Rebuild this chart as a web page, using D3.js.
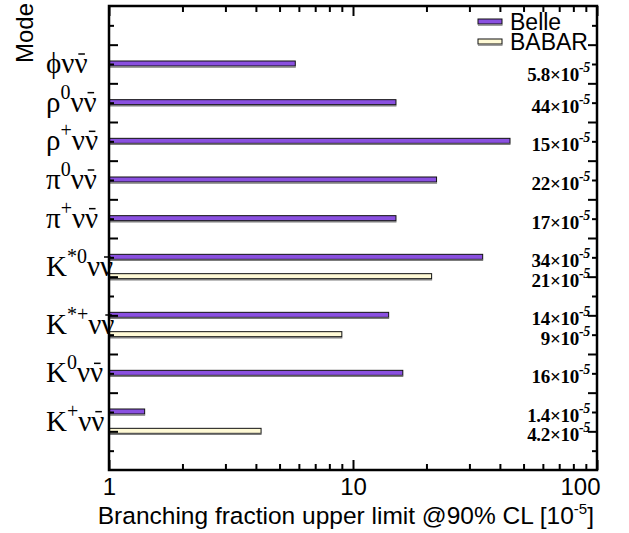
<!DOCTYPE html>
<html><head><meta charset="utf-8">
<script src="https://cdn.jsdelivr.net/npm/d3@7"></script>
<style>body{margin:0;background:#fff} svg{display:block}</style>
</head><body>
<svg id="c" width="629" height="533"></svg>
<script>
// ---- data ----
const modeBase = ["ϕ","ρ","ρ","π","π","K","K","K","K"];
const modeSup  = ["","0","+","0","+","*0","*+","0","+"];
const belleValues = [5.8, 15, 44, 22, 15, 34, 14, 16, 1.4];
const babarValues = [null, null, null, null, null, 21, 9, null, 4.2];
const belleLabels = ["5.8","44","15","22","17","34","14","16","1.4"];
const babarLabels = [null, null, null, null, null, "21","9", null, "4.2"];
const seriesNames = ["Belle","BABAR"];
const xMajorTicks = [1, 10, 100];
const xTickLabels = ["1","10","100"];
const xTitle = "Branching fraction upper limit @90% CL [10";
const yTitle = "Mode";

// ---- layout ----
const svg = d3.select("#c");
const X0 = 109, X1 = 597, Y0 = 6, Y1 = 470;
const x = d3.scaleLog().domain([1, 100]).range([X0, X1]);
const y = d3.scaleLinear().domain([0, 24]).range([Y1, Y0]);
const colors = {Belle: "#8a50e0", BABAR: "#fffad6"};
const serif = "'Liberation Serif','Times New Roman',serif";
const sans = "'Liberation Sans',Arial,Helvetica,sans-serif";

// slots: each bar takes one unit, one unit gap between modes
let pos = 21;
const rows = modeBase.map((b, i) => {
  const hasB = babarValues[i] != null;
  const r = {i, belle: pos, babar: hasB ? pos - 1 : null, center: hasB ? pos - 0.5 : pos};
  pos -= hasB ? 3 : 2;
  return r;
});
const bars = [];
rows.forEach(r => {
  bars.push({series: "Belle", v: belleValues[r.i], slot: r.belle, label: belleLabels[r.i]});
  if (r.babar != null) bars.push({series: "BABAR", v: babarValues[r.i], slot: r.babar, label: babarLabels[r.i]});
});

// ---- bars ----
const gb = svg.append("g");
bars.forEach(b => {
  const yc = y(b.slot);
  gb.append("rect")
    .attr("x", x(1)).attr("y", yc - 3)
    .attr("width", x(b.v) - x(1)).attr("height", 5)
    .attr("fill", colors[b.series]).attr("stroke", "#111").attr("stroke-width", 1);
  gb.append("line")
    .attr("x1", x(1)).attr("x2", x(b.v) + 0.5)
    .attr("y1", yc + 3).attr("y2", yc + 3)
    .attr("stroke", "#7c7c7c").attr("stroke-width", 1.5);
});

// ---- value labels (kept clear of the legend) ----
bars.forEach(b => {
  const t = svg.append("text")
    .attr("x", 590).attr("y", Math.max(y(b.slot) + 10, 81))
    .attr("text-anchor", "end")
    .attr("font-family", serif).attr("font-size", 19).attr("font-weight", "bold")
    .attr("letter-spacing", -0.3)
    .attr("fill", "#000");
  t.append("tspan").text(b.label + "×10");
  t.append("tspan").attr("dy", -9).attr("font-size", 14).attr("font-style", "italic").text("-5");
});

// ---- mode labels ----
rows.forEach(r => {
  const by = y(r.center) + 9;
  const t = svg.append("text")
    .attr("x", 46).attr("y", by)
    .attr("font-family", serif).attr("font-size", 29).attr("fill", "#000");
  t.append("tspan").text(modeBase[r.i]);
  if (modeSup[r.i]) {
    t.append("tspan").attr("dy", -13).attr("font-size", 20).text(modeSup[r.i]);
    t.append("tspan").attr("dy", 13).text("ν");
  } else {
    t.append("tspan").text("ν");
  }
  t.append("tspan").text("ν");
  // bar over the last ν (anti-neutrino)
  const n = t.node().getNumberOfChars();
  const ext = t.node().getExtentOfChar(n - 1);
  svg.append("line")
    .attr("x1", ext.x + ext.width * 0.3).attr("x2", ext.x + ext.width * 0.8)
    .attr("y1", by - 19).attr("y2", by - 19)
    .attr("stroke", "#000").attr("stroke-width", 1.5);
});

// ---- axes ----
const minorX = [];
[1, 10].forEach(d => { for (let k = 2; k <= 9; k++) minorX.push(d * k); });
const yMajor = d3.range(2, 24, 2), yMinor = d3.range(1, 24, 2);

function styleAxis(g) {
  g.select(".domain").remove();
  g.selectAll(".tick line").attr("stroke", "#000").attr("stroke-width", 2);
}
svg.append("g").attr("transform", `translate(0,${Y1})`)
  .call(d3.axisBottom(x).tickValues(xMajorTicks).tickSize(-10).tickPadding(8)
        .tickFormat((d, i) => xTickLabels[i]))
  .call(styleAxis)
  .call(g => g.selectAll("text").attr("font-family", sans).attr("font-size", 24).attr("fill", "#000")
    .attr("text-anchor", (d, i) => i === xMajorTicks.length - 1 ? "end" : "middle")
    .attr("dx", (d, i) => i === xMajorTicks.length - 1 ? 3 : 0));
svg.append("g").attr("transform", `translate(0,${Y1})`)
  .call(d3.axisBottom(x).tickValues(minorX).tickSize(-6).tickFormat(""))
  .call(styleAxis);
svg.append("g").attr("transform", `translate(0,${Y0})`)
  .call(d3.axisTop(x).tickValues(xMajorTicks).tickSize(-10).tickFormat(""))
  .call(styleAxis);
svg.append("g").attr("transform", `translate(0,${Y0})`)
  .call(d3.axisTop(x).tickValues(minorX).tickSize(-6).tickFormat(""))
  .call(styleAxis);
svg.append("g").attr("transform", `translate(${X0},0)`)
  .call(d3.axisLeft(y).tickValues(yMajor).tickSize(-9).tickFormat(""))
  .call(styleAxis);
svg.append("g").attr("transform", `translate(${X0},0)`)
  .call(d3.axisLeft(y).tickValues(yMinor).tickSize(-5).tickFormat(""))
  .call(styleAxis);
svg.append("g").attr("transform", `translate(${X1},0)`)
  .call(d3.axisRight(y).tickValues(yMajor).tickSize(-9).tickFormat(""))
  .call(styleAxis);
svg.append("g").attr("transform", `translate(${X1},0)`)
  .call(d3.axisRight(y).tickValues(yMinor).tickSize(-5).tickFormat(""))
  .call(styleAxis);

// frame
svg.append("rect").attr("x", X0).attr("y", Y0).attr("width", X1 - X0).attr("height", Y1 - Y0)
  .attr("fill", "none").attr("stroke", "#000").attr("stroke-width", 2.5);

// ---- legend ----
seriesNames.forEach((s, i) => {
  const ly = 22 + i * 20;
  svg.append("rect").attr("x", 478).attr("y", ly - 3).attr("width", 24).attr("height", 5)
    .attr("fill", colors[s]).attr("stroke", "#111").attr("stroke-width", 1);
  svg.append("line").attr("x1", 478).attr("x2", 502.5).attr("y1", ly + 3).attr("y2", ly + 3)
    .attr("stroke", "#7c7c7c").attr("stroke-width", 1.5);
  svg.append("text").attr("x", 510).attr("y", ly + 8)
    .attr("font-family", sans).attr("font-size", 23).attr("fill", "#000").text(s);
});

// ---- titles ----
const xt = svg.append("text").attr("x", 594).attr("y", 524).attr("text-anchor", "end")
  .attr("font-family", sans).attr("font-size", 24.5).attr("fill", "#000");
xt.append("tspan").text(xTitle);
xt.append("tspan").attr("dy", -10).attr("font-size", 15).text("-5");
xt.append("tspan").attr("dy", 10).text("]");

svg.append("text").attr("transform", "translate(33,3) rotate(-90)")
  .attr("text-anchor", "end")
  .attr("font-family", sans).attr("font-size", 24).attr("fill", "#000").text(yTitle);
</script>
</body></html>
